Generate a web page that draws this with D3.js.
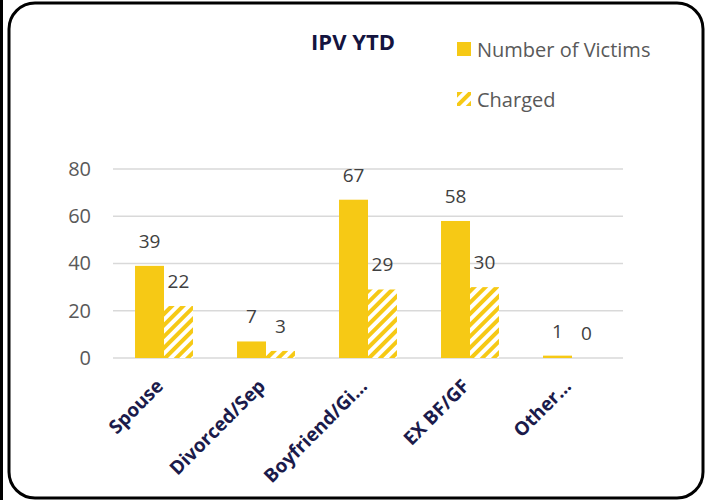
<!DOCTYPE html>
<html>
<head>
<meta charset="utf-8">
<script src="https://cdn.jsdelivr.net/npm/d3@7"></script>
<style>
  body { margin: 0; background: #fff; }
  svg { display: block; }
</style>
</head>
<body>
<div id="chart"></div>
<script>
const categories = ["Spouse", "Divorced/Sep", "Boyfriend/Gi...", "EX BF/GF", "Other..."];
const victims = [39, 7, 67, 58, 1];
const charged = [22, 3, 29, 30, 0];
const seriesNames = ["Number of Victims", "Charged"];
const yTicks = [0, 20, 40, 60, 80];

const W = 707, H = 500;
const yellow = "#F6C915";
const font = "'Open Sans', sans-serif";

const svg = d3.select("#chart").append("svg")
  .attr("width", W).attr("height", H);

// hatch pattern for "Charged"
const defs = svg.append("defs");
const pat = defs.append("pattern")
  .attr("id", "hatch")
  .attr("patternUnits", "userSpaceOnUse")
  .attr("width", 8).attr("height", 8)
  .attr("patternTransform", "rotate(45)");
pat.append("rect").attr("width", 8).attr("height", 8).attr("fill", "#fff");
pat.append("rect").attr("width", 4).attr("height", 8).attr("fill", yellow);

// outer borders
svg.append("line")
  .attr("x1", 1.5).attr("x2", 1.5).attr("y1", 0).attr("y2", H)
  .attr("stroke", "#000").attr("stroke-width", 3);
svg.append("rect")
  .attr("x", 9).attr("y", 3).attr("width", 694).attr("height", 495)
  .attr("rx", 26).attr("ry", 26)
  .attr("fill", "none").attr("stroke", "#000").attr("stroke-width", 3);

const margin = { left: 113, right: 84, top: 169, bottom: 142 };
const x = d3.scaleBand()
  .domain(categories)
  .range([margin.left, W - margin.right]);
const xSub = d3.scaleBand()
  .domain(seriesNames)
  .range([0, x.bandwidth()])
  .paddingOuter(0.76);
const y = d3.scaleLinear()
  .domain([0, 80])
  .range([H - margin.bottom, margin.top]);

// gridlines
svg.append("g").selectAll("line")
  .data(yTicks).join("line")
  .attr("x1", margin.left).attr("x2", W - margin.right)
  .attr("y1", d => y(d)).attr("y2", d => y(d))
  .attr("stroke", "#d9d9d9").attr("stroke-width", 1.5);

// y axis
const yAxis = svg.append("g")
  .attr("transform", `translate(${margin.left},0)`)
  .call(d3.axisLeft(y).tickValues(yTicks).tickSize(0).tickPadding(22));
yAxis.select(".domain").remove();
yAxis.selectAll("text")
  .attr("font-family", font).attr("font-size", 20).attr("fill", "#595959");

// bars
const data = categories.map((c, i) => ({ cat: c, values: [victims[i], charged[i]] }));
const groups = svg.append("g").selectAll("g")
  .data(data).join("g")
  .attr("transform", d => `translate(${x(d.cat)},0)`);

groups.selectAll("rect")
  .data(d => d.values.map((v, j) => ({ s: seriesNames[j], v, j })))
  .join("rect")
  .attr("x", d => xSub(d.s))
  .attr("width", xSub.bandwidth())
  .attr("y", d => y(d.v))
  .attr("height", d => y(0) - y(d.v))
  .attr("fill", d => d.j === 0 ? yellow : "url(#hatch)");

groups.selectAll("text")
  .data(d => d.values.map((v, j) => ({ s: seriesNames[j], v, j })))
  .join("text")
  .attr("x", d => xSub(d.s) + xSub.bandwidth() / 2)
  .attr("y", d => y(d.v) - 18)
  .attr("text-anchor", "middle")
  .attr("font-family", font).attr("font-size", 19).attr("fill", "#404040")
  .text(d => d.v);

// x axis labels
svg.append("g").selectAll("text")
  .data(categories).join("text")
  .attr("transform", d => `translate(${x(d) + x.bandwidth() / 2 - 9},${y(0) + 20}) rotate(-45)`)
  .attr("text-anchor", "end")
  .attr("dy", "0.7em")
  .attr("font-family", font).attr("font-size", 19).attr("font-weight", "bold")
  .attr("fill", "#1b1b4b")
  .text(d => d);

// title
svg.append("text")
  .attr("x", 353).attr("y", 50)
  .attr("text-anchor", "middle")
  .attr("font-family", font).attr("font-size", 22).attr("font-weight", "bold")
  .attr("fill", "#14143f")
  .text("IPV YTD");

// legend
const legend = svg.append("g").selectAll("g")
  .data(seriesNames).join("g")
  .attr("transform", (d, i) => `translate(457,${42 + i * 50})`);
legend.append("rect")
  .attr("width", 14).attr("height", 14)
  .attr("fill", (d, i) => i === 0 ? yellow : "url(#hatch)");
legend.append("text")
  .attr("x", 20).attr("y", 15)
  .attr("font-family", font).attr("font-size", 20).attr("fill", "#595959")
  .text(d => d);
</script>
</body>
</html>
